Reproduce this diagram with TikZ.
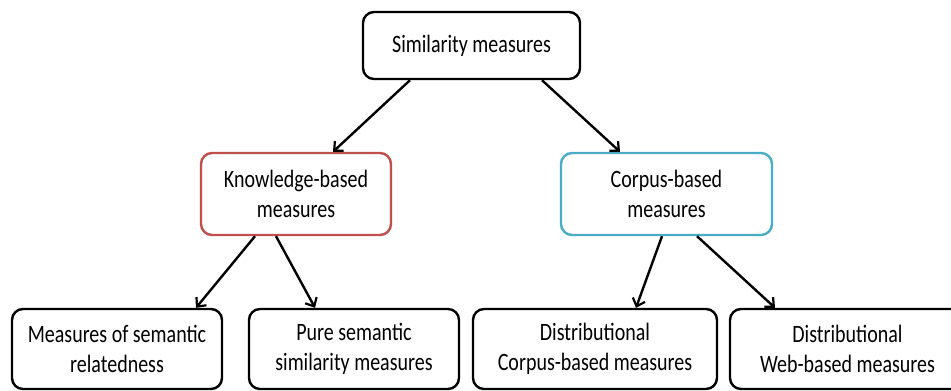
\documentclass[tikz,border=0pt]{standalone}
\usepackage{fontspec}
\setmainfont{Carlito}[FakeStretch=0.8]
\usetikzlibrary{arrows.meta,calc}
\definecolor{kred}{RGB}{192,80,77}
\definecolor{kblue}{RGB}{75,172,198}
\begin{document}
\begin{tikzpicture}[x=1pt,y=-1pt,
  box/.style={draw=black,line width=2.4pt,rounded corners=11pt,fill=white,align=center,
    font=\fontsize{25}{29.5}\selectfont,inner sep=0pt},
  conn/.style={line width=2.4pt,-{Straight Barb[length=7pt,width=13pt,line width=2.2pt]}}]
\useasboundingbox (0,0) rectangle (951,391);
\node[box,minimum width=217pt,minimum height=67pt] (top) at (471.5,45.5) {Similarity measures};
\node[box,draw=kred,minimum width=190pt,minimum height=82pt] (kb) at (296,194) {Knowledge-based\\measures};
\node[box,draw=kblue,minimum width=211pt,minimum height=82pt] (cb) at (666.5,194) {Corpus-based\\measures};
\node[box,minimum width=210pt,minimum height=80pt] (rel) at (117,349) {Measures of semantic\\relatedness};
\node[box,minimum width=210pt,minimum height=80pt] (pure) at (354,349) {Pure semantic\\similarity measures};
\node[box,minimum width=244pt,minimum height=80pt] (dc) at (595,349) {Distributional\\Corpus-based measures};
\node[box,minimum width=235pt,minimum height=80pt] (dw) at (847.5,349) {Distributional\\Web-based measures};
\draw[conn] ([xshift=-61.5pt]top.south) -- ([xshift=37pt]kb.north);
\draw[conn] ([xshift=70.5pt]top.south) -- ([xshift=-46.5pt]cb.north);
\draw[conn] ([xshift=-41pt]kb.south) -- ([xshift=79pt]rel.north);
\draw[conn] ([xshift=-20pt]kb.south) -- ([xshift=-39pt]pure.north);
\draw[conn] ([xshift=-4.5pt]cb.south) -- ([xshift=41pt]dc.north);
\draw[conn] ([xshift=30.5pt]cb.south) -- ([xshift=-72.5pt]dw.north);
\end{tikzpicture}
\end{document}
